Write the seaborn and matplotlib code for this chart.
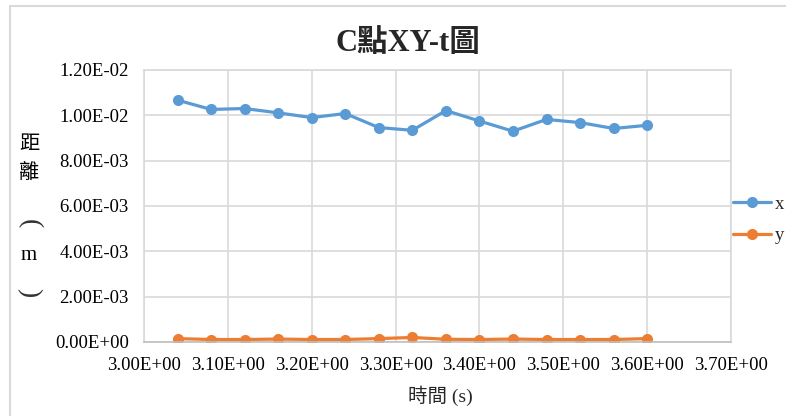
import matplotlib
matplotlib.use("Agg")
import matplotlib.pyplot as plt
import matplotlib.ticker as mticker
from matplotlib.lines import Line2D
import seaborn as sns
import pandas as pd

# Sampled time points (s) and position of point C (m)
t_values = [3.04, 3.08, 3.12, 3.16, 3.20, 3.24, 3.28, 3.32,
            3.36, 3.40, 3.44, 3.48, 3.52, 3.56, 3.60]
x_values = [0.01067, 0.01026, 0.01030, 0.01011, 0.00990, 0.01008, 0.00946, 0.00934,
            0.01021, 0.00975, 0.00930, 0.00982, 0.00968, 0.00942, 0.00956]
y_values = [0.00015, 0.00011, 0.00011, 0.00013, 0.00011, 0.00011, 0.00015, 0.00020,
            0.00012, 0.00011, 0.00013, 0.00011, 0.00011, 0.00011, 0.00015]
series_names = ["x", "y"]
x_ticks = [3.0, 3.1, 3.2, 3.3, 3.4, 3.5, 3.6, 3.7]
y_ticks = [0.0, 0.002, 0.004, 0.006, 0.008, 0.010, 0.012]

df = pd.DataFrame({
    "t": t_values * 2,
    "pos": x_values + y_values,
    "series": [series_names[0]] * len(t_values) + [series_names[1]] * len(t_values),
})

sns.set_theme(style="white")
plt.rcParams["font.family"] = ["Liberation Serif", "Noto Sans CJK TC", "DejaVu Sans"]

W, H = 786, 416
fig = plt.figure(figsize=(W / 100, H / 100), dpi=100)
ax = fig.add_axes([144 / W, 1 - 342 / H, (731 - 144) / W, (342 - 70) / H])

palette = {"x": "#5B9BD5", "y": "#ED7D31"}
sns.lineplot(data=df, x="t", y="pos", hue="series", palette=palette,
             marker="o", markersize=8, markeredgewidth=0, linewidth=2.3,
             ax=ax, legend=False)

grid_c = "#D9D9D9"
ax.set_xlim(3.0, 3.7)
ax.set_ylim(0, 0.012)
ax.set_xticks(x_ticks)
ax.set_yticks(y_ticks)
fmt = mticker.FuncFormatter(lambda v, p: f"{v:.2E}")
ax.xaxis.set_major_formatter(fmt)
ax.yaxis.set_major_formatter(fmt)
ax.grid(True, color=grid_c, linewidth=1.2)
ax.set_axisbelow(True)
for s in ax.spines.values():
    s.set_color(grid_c)
    s.set_linewidth(1.2)
ax.spines["bottom"].set_color("#BFBFBF")
ax.tick_params(axis="both", length=0, labelsize=13.5, colors="#000000")
ax.tick_params(axis="y", pad=11)
ax.tick_params(axis="x", pad=11)
ax.set_xlabel("")
ax.set_ylabel("")

# Title
fig.text(408 / W, 1 - 43 / H, "C點XY-t圖", ha="center", va="center",
         fontsize=22, fontweight="bold",
         family=["Liberation Serif", "Noto Sans CJK TC"])

# X axis title
fig.text(440 / W, 1 - 396 / H, "時間 (s)", ha="center", va="center",
         fontsize=14, family=["Liberation Serif", "Noto Sans CJK TC"])

# Vertical Y axis title: 距離(m), one glyph per line, brackets turned sideways
cjk = ["Noto Sans CJK TC", "Liberation Serif"]
serif = ["Liberation Serif", "Noto Sans CJK TC"]
for ch, ypix, size, fam, rot in [("距", 144, 14.5, cjk, 0), ("離", 173, 14.5, cjk, 0),
                                 ("(", 224, 20, serif, -90), ("m", 256, 15, serif, 0),
                                 (")", 293, 20, serif, -90)]:
    fig.text(29 / W, 1 - ypix / H, ch, ha="center", va="center", fontsize=size,
             family=fam, rotation=rot, color="#333333" if ch in "()" else "black")

# Legend
handles = [Line2D([0], [0], color=palette[n], marker="o", markersize=8,
                  markeredgewidth=0, linewidth=2.3) for n in series_names]
fig.legend(handles, series_names, loc="center left",
           bbox_to_anchor=(733 / W, 1 - 220 / H), frameon=False,
           fontsize=13.5, handlelength=2.0, handletextpad=0.25,
           labelspacing=0.75, borderpad=0, borderaxespad=0)

# Chart-area outline
fig.add_artist(Line2D([10 / W, 10 / W], [0, 1 - 6 / H], color=grid_c, linewidth=1.5,
                      transform=fig.transFigure))
fig.add_artist(Line2D([10 / W, 1], [1 - 6 / H, 1 - 6 / H], color=grid_c, linewidth=1.5,
                      transform=fig.transFigure))

fig.savefig("out.png", dpi=100, facecolor="white")
